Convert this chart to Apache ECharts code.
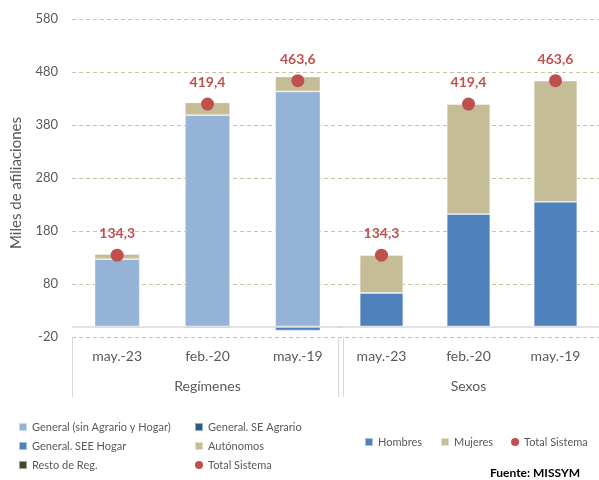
<!DOCTYPE html>
<html><head><meta charset="utf-8">
<script src="https://cdn.jsdelivr.net/npm/echarts@6/dist/echarts.min.js"></script>
<style>html,body{margin:0;padding:0;background:#fff}#c{width:599px;height:480px}</style>
</head><body><div id="c"></div>
<script>
// ---- data ----
const categories = ['may.-23', 'feb.-20', 'may.-19'];
const groupNames = ['Regímenes', 'Sexos'];
const general = [127.0, 398.5, 443.5];
const seAgrario = [-0.4, -0.4, -0.5];
const seeHogar = [-2.1, -2.9, -7.4];
const autonomos = [9.8, 24.2, 28.0];
const resto = [0.0, 0.0, 0.0];
const totalSistema = [134.3, 419.4, 463.6];
const hombres = [63.0, 212.0, 235.0];
const mujeres = [71.3, 207.4, 228.6];
const yMin = -20, yMax = 580, yInterval = 100;

// ---- styling ----
const FONT = 'Lato';
const TXT = '#595959';
const C = {
  general: '#95B3D7', agrario: '#2C5A8C', hogar: '#4F81BD', auto: '#C4BD97',
  resto: '#4A452A', total: '#C0504D', hombres: '#4F81BD', mujeres: '#C4BD97'
};
const gridLine = { show: true, lineStyle: { color: '#C9C29F', type: [4, 3], width: 1 } };
const barBorder = { borderColor: 'rgba(255,255,255,0.5)', borderWidth: 0.8 };
const zeroLine = {
  silent: true, symbol: 'none', label: { show: false },
  lineStyle: { color: '#D9D9D9', type: 'solid', width: 1.5 },
  data: [{ yAxis: 0 }]
};
const fmt = p => p.value.toFixed(1).replace('.', ',');
const dotLabel = {
  show: true, position: 'top', distance: 8, formatter: fmt,
  color: C.total, fontWeight: 'bold', fontSize: 14, fontFamily: FONT
};

function bar(name, data, color, xi, extra) {
  return Object.assign({
    name, type: 'bar', stack: 's' + xi, data, xAxisIndex: xi, yAxisIndex: xi,
    barWidth: '50%', itemStyle: Object.assign({ color }, barBorder)
  }, extra || {});
}

const catAxis = (gi) => ({
  type: 'category', gridIndex: gi, data: categories, position: 'bottom',
  axisLine: { show: false }, axisTick: { show: false },
  axisLabel: { color: TXT, fontSize: 14, fontFamily: FONT, margin: 12 }
});
const frameAxis = (gi, name) => ({
  type: 'value', gridIndex: gi, min: 0, max: 1, interval: 1, position: 'bottom',
  axisLine: { show: false }, axisLabel: { show: false }, splitLine: { show: false },
  axisTick: { show: true, length: 60, lineStyle: { color: '#D9D9D9', width: 1 } },
  name, nameLocation: 'middle', nameGap: 42,
  nameTextStyle: { color: TXT, fontSize: 14, fontFamily: FONT }
});
const valAxis = (gi, showLabels) => ({
  type: 'value', gridIndex: gi, min: yMin, max: yMax, interval: yInterval,
  axisLine: { show: false }, axisTick: { show: false },
  axisLabel: { show: showLabels, color: TXT, fontSize: 13, fontFamily: FONT, margin: 14 },
  splitLine: gridLine,
  name: showLabels ? 'Miles de afiliaciones' : '', nameLocation: 'middle', nameGap: 48,
  nameTextStyle: { color: TXT, fontSize: 15, fontFamily: FONT, padding: [0, 0, 0, -10] }
});

const legendText = { color: TXT, fontSize: 11, fontFamily: FONT, lineHeight: 14 };

const option = {
  animation: false,
  backgroundColor: '#fff',
  textStyle: { fontFamily: FONT },
  title: {
    text: 'Fuente: MISSYM', right: 19, top: 467, padding: 0,
    textStyle: { color: '#000', fontSize: 12, fontWeight: 'bold', fontFamily: FONT }
  },
  grid: [
    { left: 72, top: 19, width: 271, height: 318 },
    { left: 338, top: 19, width: 266, height: 318 }
  ],
  xAxis: [catAxis(0), catAxis(1), frameAxis(0, groupNames[0]), frameAxis(1, groupNames[1])],
  yAxis: [valAxis(0, true), valAxis(1, false)],
  legend: [
    { left: 18, top: 420, orient: 'vertical', itemWidth: 8, itemHeight: 8, itemGap: 5, padding: 0,
      icon: 'rect', textStyle: legendText,
      data: ['General (sin Agrario y Hogar)', 'General. SEE Hogar', 'Resto de Reg.'] },
    { left: 194, top: 420, orient: 'vertical', itemWidth: 8, itemHeight: 8, itemGap: 5, padding: 0,
      icon: 'rect', textStyle: legendText,
      data: ['General. SE Agrario', 'Autónomos', { name: 'Total Sistema', icon: 'circle' }] },
    { left: 364, top: 435, orient: 'horizontal', itemWidth: 8, itemHeight: 8, itemGap: 18, padding: 0,
      icon: 'rect', textStyle: legendText,
      data: ['Hombres', 'Mujeres', { name: 'Total Sistema', icon: 'circle' }] }
  ],
  series: [
    bar('General (sin Agrario y Hogar)', general, C.general, 0, { markLine: zeroLine }),
    bar('General. SE Agrario', seAgrario, C.agrario, 0),
    bar('General. SEE Hogar', seeHogar, C.hogar, 0),
    bar('Autónomos', autonomos, C.auto, 0),
    bar('Resto de Reg.', resto, C.resto, 0),
    { name: 'Total Sistema', type: 'scatter', xAxisIndex: 0, yAxisIndex: 0, data: totalSistema,
      symbolSize: 13, itemStyle: { color: C.total, opacity: 1 }, label: dotLabel, z: 5 },
    bar('Hombres', hombres, C.hombres, 1, { markLine: zeroLine }),
    bar('Mujeres', mujeres, C.mujeres, 1),
    { name: 'Total Sistema', type: 'scatter', xAxisIndex: 1, yAxisIndex: 1, data: totalSistema,
      symbolSize: 13, itemStyle: { color: C.total, opacity: 1 }, label: dotLabel, z: 5 }
  ]
};
const chart = echarts.init(document.getElementById('c'), null, { renderer: 'canvas' });
chart.setOption(option);
</script></body></html>
